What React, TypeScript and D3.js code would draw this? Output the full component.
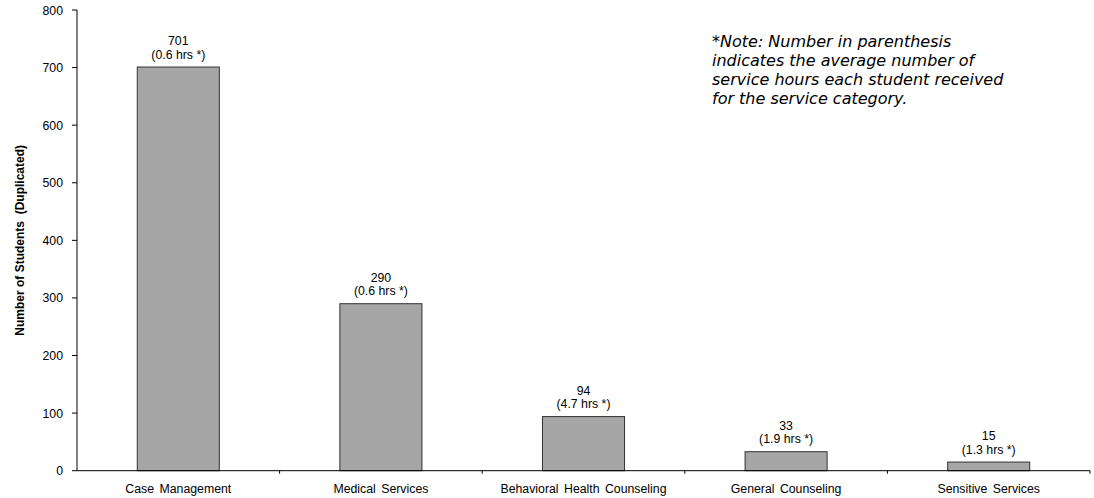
import React from "react";
import * as d3 from "d3";

const categories = ["Case Management", "Medical Services", "Behavioral Health Counseling", "General Counseling", "Sensitive Services"];
const students = [701, 290, 94, 33, 15];
const hours = ["0.6", "0.6", "4.7", "1.9", "1.3"];
const yTicks = [0, 100, 200, 300, 400, 500, 600, 700, 800];
const noteLines = [
  "*Note: Number in parenthesis",
  "indicates the average number of",
  "service hours each student received",
  "for the service category.",
];

export default function App() {
  const W = 1094, H = 498;
  const left = 77, right = 1090, top = 10, bottom = 470.7;
  const x = d3.scaleBand<string>().domain(categories).range([left, right]).paddingInner(0).paddingOuter(0);
  const y = d3.scaleLinear().domain([0, 800]).range([bottom, top]);
  const bw = x.bandwidth() * 0.405;
  const font = "'Liberation Sans', Arial, sans-serif";
  const fs = 12.3;
  return (
    <svg width={W} height={H} style={{ position: "absolute", left: 0, top: 0, background: "#fff" }}>
      {categories.map((c, i) => {
        const cx = (x(c) as number) + x.bandwidth() / 2;
        const yt = y(students[i]);
        return (
          <g key={c}>
            <rect x={cx - bw / 2} y={yt} width={bw} height={bottom - yt} fill="#a6a6a6" stroke="#333" strokeWidth={1} />
            <text x={cx} y={yt - 22} textAnchor="middle" fontFamily={font} fontSize={fs} fill="#000">{students[i]}</text>
            <text x={cx} y={yt - 8.5} textAnchor="middle" fontFamily={font} fontSize={fs} fill="#000">({hours[i]} hrs *)</text>
            <text x={cx} y={493} textAnchor="middle" fontFamily={font} fontSize={fs} wordSpacing={2} fill="#000">{c}</text>
          </g>
        );
      })}
      {/* y axis */}
      <line x1={left} x2={left} y1={top} y2={bottom} stroke="#000" strokeWidth={1} />
      {yTicks.map((t) => (
        <g key={t}>
          <line x1={left - 5} x2={left} y1={y(t)} y2={y(t)} stroke="#000" />
          <text x={left - 14} y={y(t) + 4.5} textAnchor="end" fontFamily={font} fontSize={fs} fill="#000">{t}</text>
        </g>
      ))}
      {/* x axis */}
      <line x1={left} x2={right} y1={bottom} y2={bottom} stroke="#000" strokeWidth={1} />
      {categories.map((c) => (
        <line key={c} x1={(x(c) as number) + x.bandwidth()} x2={(x(c) as number) + x.bandwidth()} y1={bottom} y2={bottom + 3} stroke="#000" />
      ))}
      <text transform={`translate(24, ${(top + bottom) / 2}) rotate(-90)`} textAnchor="middle" fontFamily={font} fontSize={12} fontWeight="bold" style={{ whiteSpace: "pre" }} fill="#000">
        {"Number of Students  (Duplicated)"}
      </text>
      {noteLines.map((l, i) => (
        <text key={i} x={712} y={46.5 + i * 19} fontFamily="'DejaVu Sans', Verdana, sans-serif" fontStyle="italic" fontSize={16} fill="#000">{l}</text>
      ))}
    </svg>
  );
}
